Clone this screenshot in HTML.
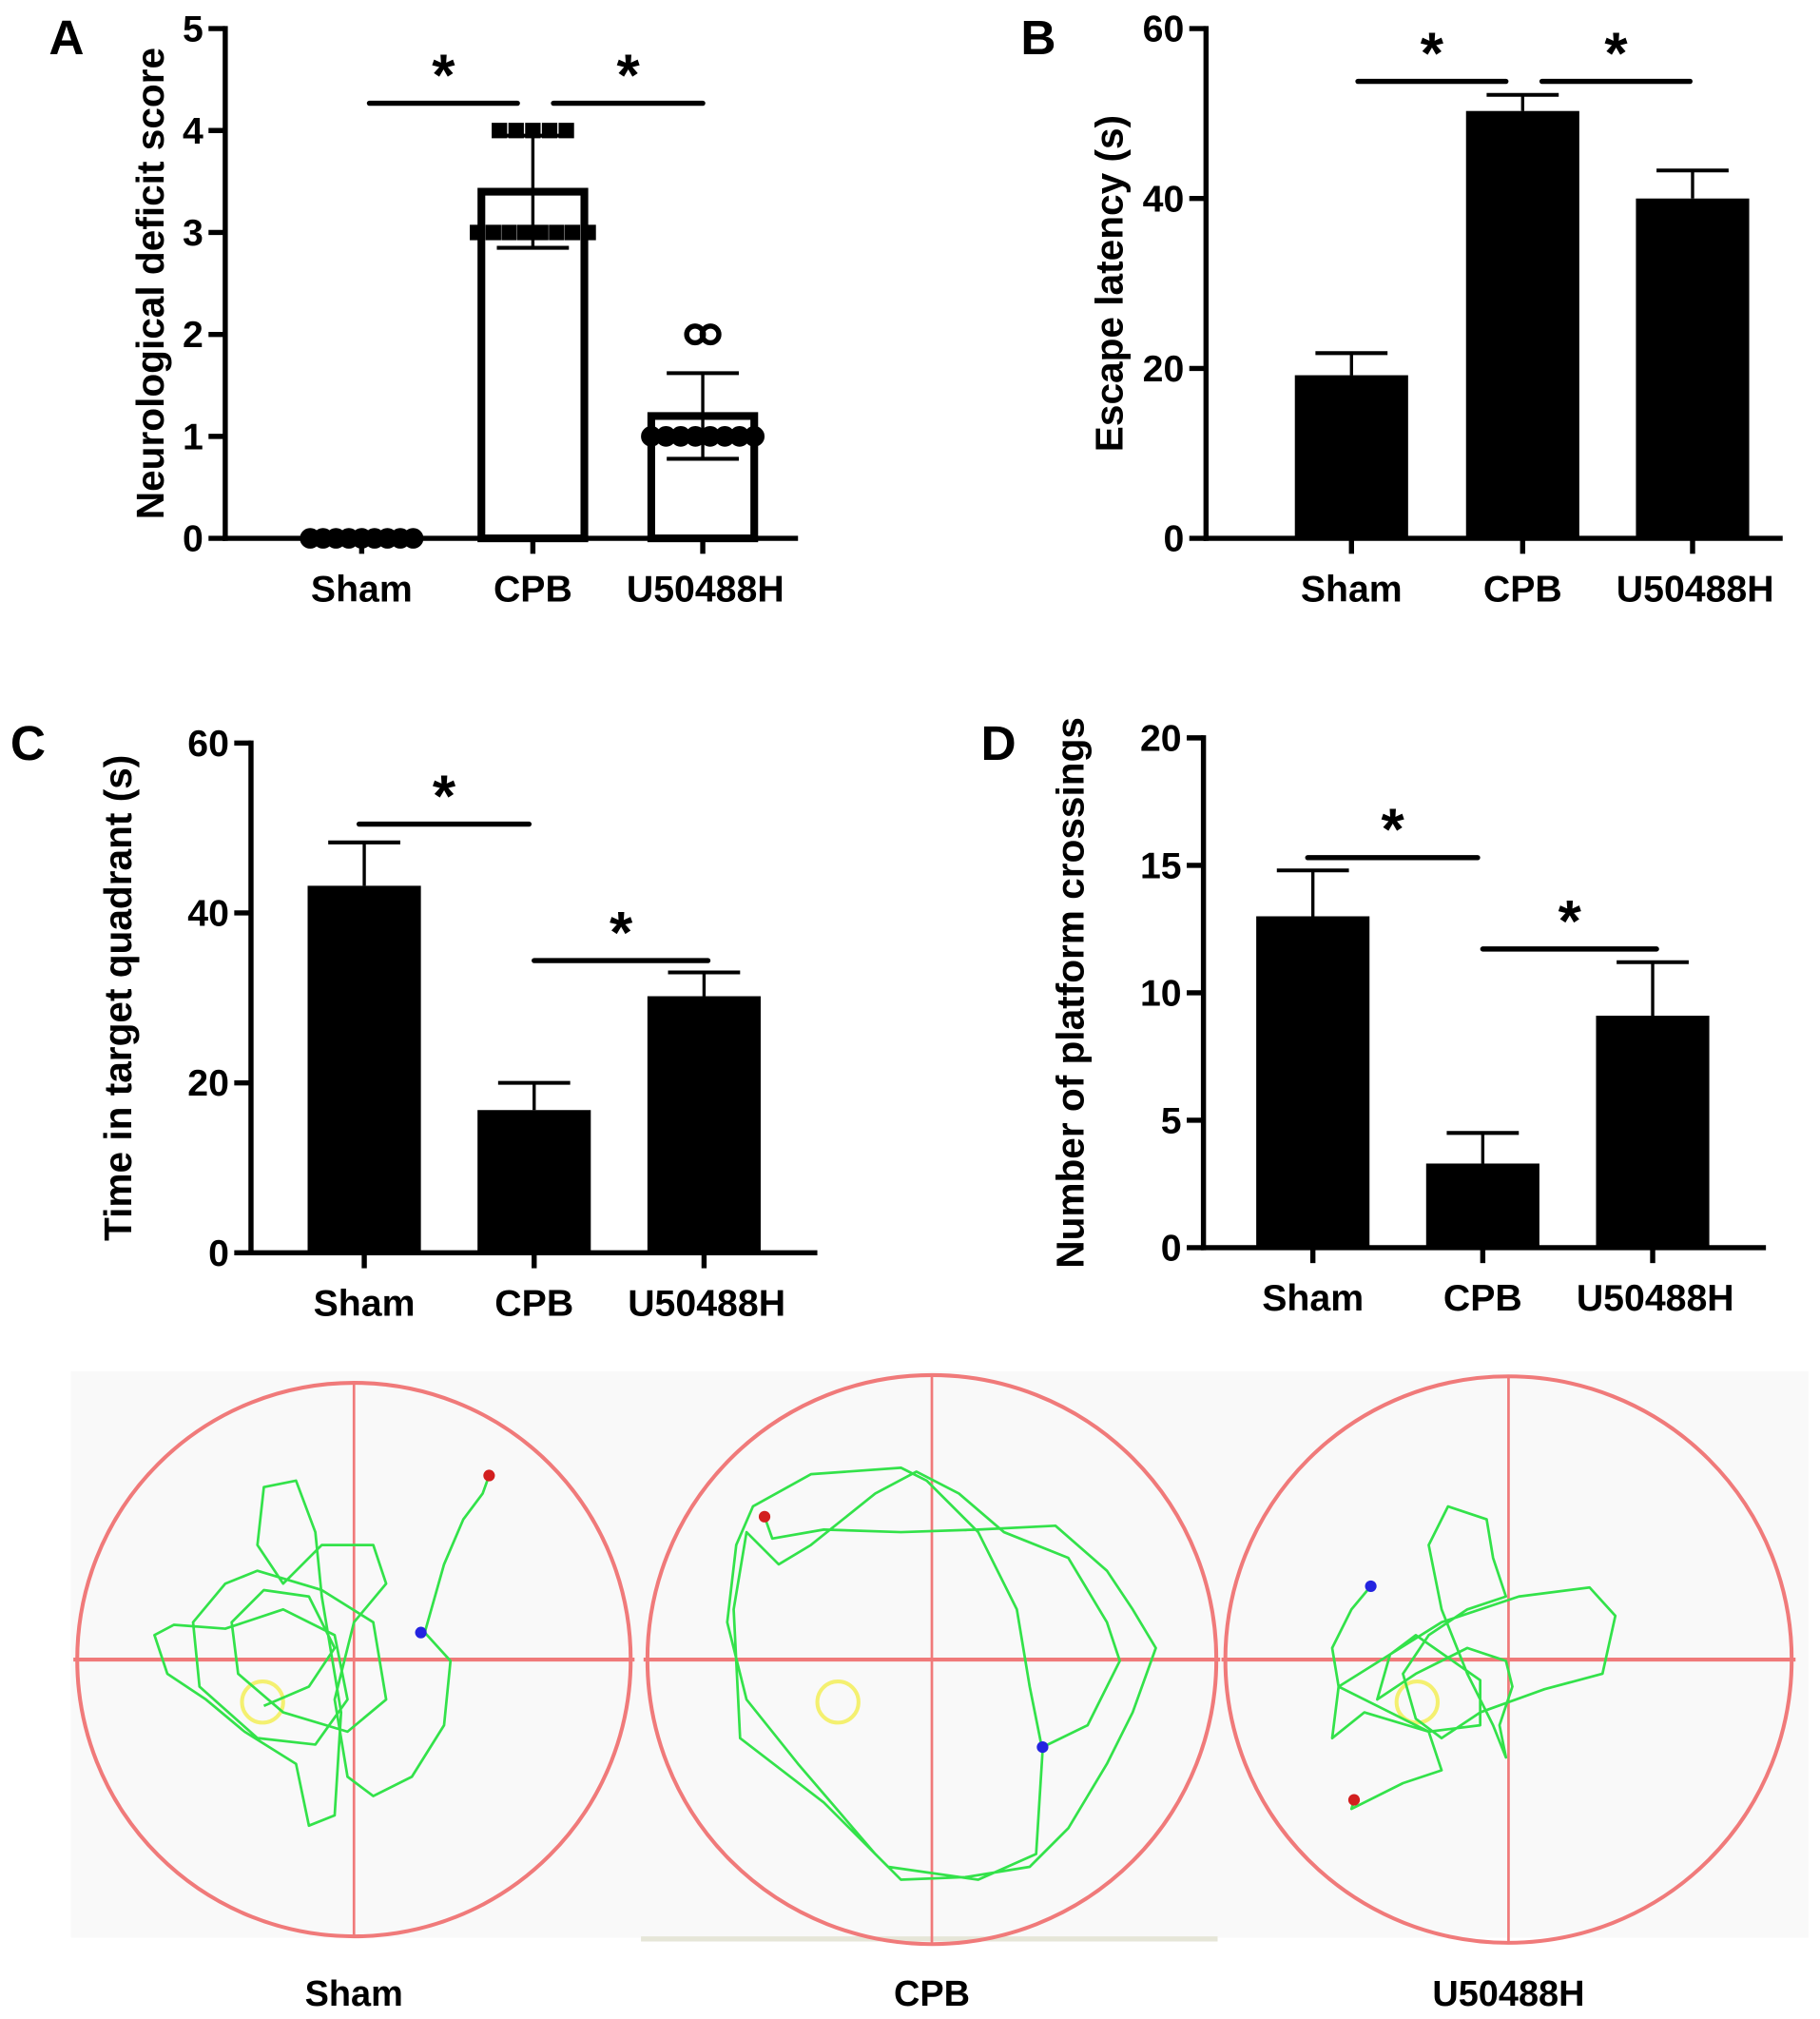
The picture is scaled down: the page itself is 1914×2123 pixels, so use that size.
<!DOCTYPE html>
<html><head><meta charset="utf-8"><style>
html,body{margin:0;padding:0;background:#fff;}
svg{display:block;font-family:"Liberation Sans",Arial,sans-serif;}
</style></head><body>
<svg id="fig" width="1914" height="2123" viewBox="0 0 1414 1568" xmlns="http://www.w3.org/2000/svg">
<g id="charts"></g>
<g id="maze"></g>
</svg>
<script>
const NS="http://www.w3.org/2000/svg";
const categories=["Sham","CPB","U50488H"];
const aMeans=[0,3.4,1.2], aErr=[0,0.55,0.42];
const bMeans=[19.2,50.3,40], bErr=[2.6,1.9,3.3];
const cMeans=[43.2,16.8,30.2], cErr=[5.1,3.2,2.8];
const dMeans=[13,3.3,9.1], dErr=[1.8,1.2,2.1];
const aTicks=[0,1,2,3,4,5], bTicks=[0,20,40,60], cTicks=[0,20,40,60], dTicks=[0,5,10,15,20];
const aPointsSham=[0,0,0,0,0,0,0,0,0];
const aPointsCPB=[4,4,4,4,4,3,3,3,3,3,3,3,3];
const aPointsU=[1,1,1,1,1,1,1,1,2,2];

function el(tag,attrs,parent){const e=document.createElementNS(NS,tag);for(const k in attrs)e.setAttribute(k,attrs[k]);parent.appendChild(e);return e;}
const root=document.getElementById('charts');

function chart(cfg){
  const g=el('g',{},root);
  
  
  const y=v=>cfg.y0-(v-cfg.min)/(cfg.max-cfg.min)*(cfg.y0-cfg.yTop);
  const x=i=>cfg.cx[i];
  cfg.means.forEach((m,i)=>{
    const r=el('rect',{x:x(i)-cfg.bw/2+(cfg.open?3:0),y:y(m),width:cfg.bw-(cfg.open?6:0),height:y(0)-y(m),fill:cfg.open?'#fff':'#000',stroke:'#000','stroke-width':cfg.open?6:0},g);
    
    
    if(cfg.err[i]>0){
      const top=y(m+cfg.err[i]);
      el('line',{x1:x(i),x2:x(i),y1:cfg.open?y(m-cfg.err[i]):y(m),y2:top,stroke:'#000','stroke-width':2.5},g);
      el('line',{x1:x(i)-28,x2:x(i)+28,y1:top,y2:top,stroke:'#000','stroke-width':3},g);
      if(cfg.open){const bt=y(m-cfg.err[i]);el('line',{x1:x(i)-28,x2:x(i)+28,y1:bt,y2:bt,stroke:'#000','stroke-width':3},g);}
    }
  });
  const ya=el('line',{x1:cfg.ax,x2:cfg.ax,y1:cfg.yTop-2,y2:cfg.y0+2,stroke:'#000','stroke-width':4},g);
  
  const xa=el('line',{x1:cfg.ax-2,x2:cfg.xEnd,y1:cfg.y0,y2:cfg.y0,stroke:'#000','stroke-width':4},g);
  
  cfg.ticks.forEach(t=>{
    el('line',{x1:cfg.ax-13,x2:cfg.ax,y1:y(t),y2:y(t),stroke:'#000','stroke-width':4},g);
    const tx=el('text',{x:cfg.ax-17,y:y(t)+10,'text-anchor':'end','font-size':29,'font-weight':'bold'},g);
    tx.textContent=t;
    
  });
  categories.forEach((c,i)=>{
    el('line',{x1:x(i),x2:x(i),y1:cfg.y0,y2:cfg.y0+12,stroke:'#000','stroke-width':4},g);
    const t=el('text',{x:x(i)+(i===2?2:0),y:cfg.y0+49,'text-anchor':'middle','font-size':29,'font-weight':'bold'},g);
    t.textContent=c;
    
  });
  const tt=el('text',{x:0,y:0,'text-anchor':'middle','font-size':30,'font-weight':'bold',transform:`translate(${cfg.titleX},${(cfg.y0+cfg.yTop)/2}) rotate(-90)`},g);
  tt.textContent=cfg.title;
  
  const L=el('text',{x:cfg.letter[0],y:cfg.letter[1],'font-size':38,'font-weight':'bold'},g);
  L.textContent=cfg.letterText;
  
  cfg.sig.forEach(s=>{
    const ln=el('line',{x1:s[0],x2:s[1],y1:s[2],y2:s[2],stroke:'#000','stroke-width':4,'stroke-linecap':'round'},g);
    
    const st=el('text',{x:(s[0]+s[1])/2,y:s[2]-6,'text-anchor':'middle','font-size':46,'font-weight':'bold'},g);
    st.textContent='*';
    
  });
  return {g,x,y};
}

const A=chart({name:'chart-a-neuro-score',min:0,max:5,y0:418,yTop:22,ax:175,xEnd:620,cx:[281,414,546],bw:86,open:true,means:aMeans,err:aErr,ticks:aTicks,title:'Neurological  deficit  score',titleX:127,letter:[38,42],letterText:'A',sig:[[287,402,80],[430,546,80]]});
function dots(arr,i,shape,span){
  const groups={};arr.forEach(v=>{(groups[v]=groups[v]||[]).push(v);});
  for(const v in groups){
    const k=groups[v].length;
    const w=k>2?span:12;
    groups[v].forEach((_,j)=>{
      const px=A.x(i)-w/2+(k>1?j*w/(k-1):w/2);
      const py=A.y(+v);
      let d;
      if(shape==='sq')d=el('rect',{x:px-6,y:py-6,width:12,height:12,fill:'#000'},A.g);
      else d=el('circle',{cx:px,cy:py,r:6.5,fill:shape==='open'?'none':'#000',stroke:'#000','stroke-width':shape==='open'?4:3},A.g);
      
      
    });
  }
}
dots(aPointsSham,0,'dot',80);
dots(aPointsCPB.filter(v=>v===4),1,'sq',52);
dots(aPointsCPB.filter(v=>v===3),1,'sq',86);
dots(aPointsU.filter(v=>v===1),2,'dot',80);
dots(aPointsU.filter(v=>v===2),2,'open',10);

chart({name:'chart-b-escape-latency',min:0,max:60,y0:418,yTop:22,ax:937,xEnd:1385,cx:[1050,1183,1315],bw:88,means:bMeans,err:bErr,ticks:bTicks,title:'Escape latency (s)',titleX:872,letter:[793,42],letterText:'B',sig:[[1055,1170,63],[1198,1313,63]]});
chart({name:'chart-c-target-quadrant',min:0,max:60,y0:973,yTop:577,ax:195,xEnd:635,cx:[283,415,547],bw:88,means:cMeans,err:cErr,ticks:cTicks,title:'Time in  target quadrant (s)',titleX:102,letter:[8,590],letterText:'C',sig:[[279,411,640],[415,550,746]]});
chart({name:'chart-d-platform-crossings',min:0,max:20,y0:969,yTop:573,ax:935,xEnd:1372,cx:[1020,1152,1284],bw:88,means:dMeans,err:dErr,ticks:dTicks,title:'Number of platform crossings',titleX:842,letter:[762,590],letterText:'D',sig:[[1016,1148,666],[1152,1287,737]]});

const mz=document.getElementById('maze');
el('rect',{x:55,y:1065,width:1350,height:440,fill:'#f9f9f9'},mz);
el('line',{x1:498,x2:946,y1:1506,y2:1506,stroke:'#e6e6d8','stroke-width':4},mz);
const pools=[
 {cx:275,cy:1289,r:215,pf:[204,1322],label:'Sham',
  path:[[380,1146],[375,1160],[360,1180],[345,1215],[330,1268],[350,1290],[345,1340],[320,1380],[290,1395],[270,1380],[260,1320],[275,1260],[300,1230],[290,1200],[250,1200],[220,1230],[200,1200],[205,1155],[230,1150],[245,1190],[250,1240],[265,1330],[260,1410],[240,1418],[230,1370],[190,1345],[160,1320],[130,1300],[120,1270],[135,1262],[175,1265],[220,1250],[260,1270],[270,1320],[245,1355],[200,1350],[155,1310],[150,1260],[175,1230],[200,1220],[250,1235],[290,1260],[300,1320],[270,1345],[220,1330],[185,1300],[180,1260],[205,1235],[240,1240],[260,1280],[240,1310],[205,1325]],
  start:[380,1146],end:[327,1268]},
 {cx:724,cy:1289,r:221,pf:[651,1322],label:'CPB',
  path:[[594,1178],[600,1195],[640,1188],[700,1190],[760,1188],[820,1185],[860,1220],[880,1250],[898,1280],[880,1330],[860,1370],[830,1420],[800,1450],[750,1458],[700,1460],[680,1440],[620,1370],[580,1320],[565,1260],[572,1200],[585,1170],[630,1145],[700,1140],[720,1150],[760,1190],[790,1250],[800,1310],[810,1360],[805,1440],[760,1460],[690,1450],[640,1400],[575,1350],[570,1250],[580,1190],[605,1215],[630,1200],[680,1160],[712,1143],[745,1160],[780,1190],[830,1210],[860,1260],[870,1290],[845,1340],[810,1357]],
  start:[594,1178],end:[810,1357]},
 {cx:1172,cy:1289,r:220,pf:[1101,1322],label:'U50488H',
  path:[[1052,1398],[1050,1405],[1090,1385],[1120,1375],[1110,1345],[1060,1330],[1035,1350],[1040,1310],[1080,1285],[1120,1260],[1180,1240],[1235,1233],[1255,1255],[1245,1300],[1200,1312],[1150,1330],[1120,1350],[1100,1335],[1090,1300],[1110,1270],[1140,1250],[1170,1240],[1160,1210],[1155,1180],[1125,1170],[1110,1200],[1120,1250],[1140,1300],[1160,1340],[1170,1365],[1165,1340],[1175,1310],[1170,1290],[1140,1280],[1100,1300],[1070,1320],[1080,1285],[1100,1270],[1150,1305],[1150,1340],[1110,1345],[1080,1330],[1040,1310],[1035,1280],[1050,1250],[1065,1232]],
  start:[1052,1398],end:[1065,1232]}
];
pools.forEach(p=>{
  const g=el('g',{},mz);
  
  
  el('circle',{cx:p.cx,cy:p.cy,r:p.r,fill:'none',stroke:'#f07a7a','stroke-width':3},g);
  el('line',{x1:p.cx,x2:p.cx,y1:p.cy-p.r,y2:p.cy+p.r,stroke:'#f07a7a','stroke-width':2},g);
  el('line',{x1:p.cx-p.r-3,x2:p.cx+p.r+3,y1:p.cy,y2:p.cy,stroke:'#f07a7a','stroke-width':3},g);
  el('circle',{cx:p.pf[0],cy:p.pf[1],r:16,fill:'none',stroke:'#f4f070','stroke-width':3},g);
  const pl=el('polyline',{points:p.path.map(q=>q.join(',')).join(' '),fill:'none',stroke:'#33e24a','stroke-width':2,'stroke-linejoin':'round'},g);
  
  el('circle',{cx:p.start[0],cy:p.start[1],r:4.5,fill:'#d21f1f'},g);
  el('circle',{cx:p.end[0],cy:p.end[1],r:4.5,fill:'#2424e0'},g);
  const t=el('text',{x:p.cx,y:1558,'text-anchor':'middle','font-size':28,'font-weight':'bold'},g);
  t.textContent=p.label;
  
});
</script>
</body></html>
